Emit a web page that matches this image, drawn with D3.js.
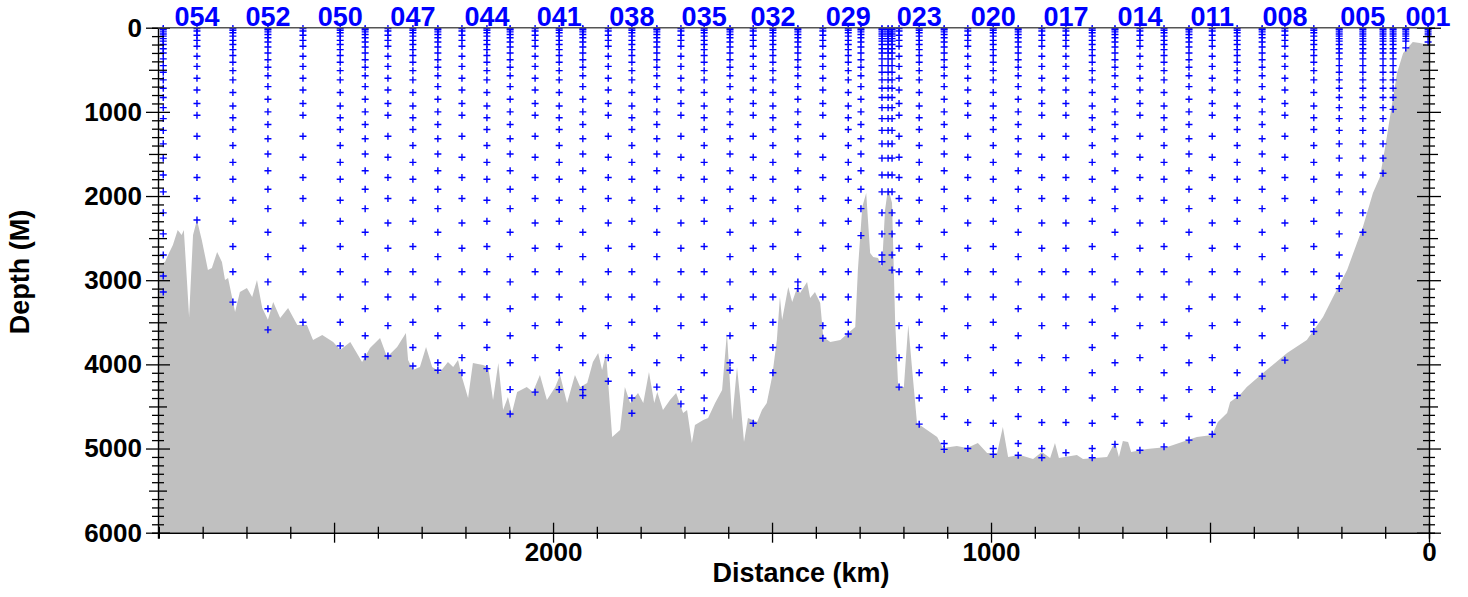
<!DOCTYPE html>
<html>
<head>
<meta charset="utf-8">
<script src="https://cdn.jsdelivr.net/npm/d3@7"></script>
<style>
  body { margin: 0; background: #fff; }
  svg { display: block; font-family: 'Liberation Sans', Arial, sans-serif; }
</style>
</head>
<body>
<div id="chart"></div>
<script>
//Datos de la sección: estaciones, botellas y batimetría
const stationIds = ['001','002','003','004','005','006','007','008','009','010',
    '011','012','013','014','015','016','017','018','019','020',
    '021','022','023','024','025','026','027','028','029','030',
    '031','032','033','034','035','036','037','038','039','040',
    '041','042','043','044','045','046','047','048','049','050',
    '051','052','053','054','055'];

//Distancia de cada estación (km)
const stationKm = [2, 53, 82, 105, 151, 205, 263, 329, 381, 438,
    495, 548, 605, 660, 717, 769, 829, 884, 938, 995,
    1053, 1107, 1164, 1210, 1226, 1235, 1249, 1297, 1326, 1384,
    1441, 1498, 1543, 1596, 1655, 1708, 1763, 1820, 1874, 1932,
    1986, 2041, 2098, 2151, 2208, 2263, 2320, 2377, 2429, 2486,
    2571, 2651, 2731, 2813, 2890];

//Botella más profunda de cada estación (m)
const deepestBottle = [170, 240, 970, 1730, 2430, 3100, 3610, 3950, 4140, 4370,
    4830, 4900, 4980, 5020, 4950, 5110, 5050, 5110, 5080, 5070,
    5000, 5010, 4710, 4270, 2880, 1950, 2780, 2470, 3640, 3690,
    3100, 4100, 4700, 4070, 4550, 4470, 4270, 4580, 4200, 4370,
    4300, 4330, 4590, 4050, 4100, 4070, 4020, 3900, 3910, 3780,
    3500, 3590, 3260, 2285, 3140];

//Esquema de botellas usado en cada estación
const stationPattern = ['D','D','D','D','D','D','A','B','C','A',
    'B','C','A','B','C','A','B','B','C','A',
    'B','C','A','B','D','D','D','C','A','B',
    'C','A','B','C','A','B','C','A','B','C',
    'A','B','C','A','B','C','A','B','C','A',
    'B','C','A','B','D'];

//Profundidades de botella (m)
const bottlesA = [10, 30, 60, 100, 150, 200, 260, 330, 410, 510, 620, 770, 930, 1070, 1210, 1400, 1600, 1800, 2050, 2300, 2600, 2900, 3200, 3500, 3800, 4100, 4400, 4700, 5000];
const bottlesB = [10, 40, 90, 150, 220, 340, 460, 600, 740, 900, 1040, 1290, 1540, 1780, 2030, 2320, 2620, 2900, 3200, 3540, 3920, 4300, 4690, 5000];
const bottlesC = [10, 25, 50, 80, 120, 170, 230, 300, 380, 470, 570, 700, 850, 1000, 1150, 1320, 1500, 1700, 1920, 2150, 2430, 2720, 3020, 3340, 3660, 3980, 4300, 4620, 4940];
const bottlesD = [10, 25, 50, 75, 100, 130, 160, 200, 250, 300, 370, 450, 530, 620, 720, 830, 950, 1080, 1220, 1380, 1550, 1750, 1950, 2200, 2450, 2700, 2950];

//Estaciones rotuladas arriba
const labeledStations = ['054','052','050','047','044','041','038','035','032','029','023','020','017','014','011','008','005','001'];

//Batimetría: [distancia km, profundidad m]
const bathyKm = [2902, 2886, 2879, 2868, 2857, 2848, 2843, 2836, 2831, 2822, 2813, 2802, 2788, 2779, 2767, 2756, 2749, 2742, 2726, 2715,
    2699, 2687, 2676, 2664, 2651, 2639, 2623, 2605, 2584, 2562, 2548, 2527, 2502, 2486, 2463, 2436, 2418, 2395, 2379, 2356,
    2336, 2331, 2320, 2304, 2290, 2276, 2258, 2240, 2228, 2217, 2208, 2194, 2183, 2160, 2148, 2137, 2125, 2114, 2103, 2094,
    2082, 2060, 2046, 2030, 2014, 1995, 1984, 1968, 1950, 1938, 1922, 1909, 1897, 1888, 1879, 1865, 1847, 1836, 1824, 1806,
    1794, 1781, 1769, 1762, 1749, 1733, 1719, 1703, 1694, 1683, 1676, 1657, 1646, 1630, 1614, 1603, 1591, 1580, 1573, 1564,
    1555, 1534, 1523, 1512, 1500, 1489, 1482, 1477, 1463, 1454, 1443, 1436, 1420, 1413, 1402, 1390, 1383, 1367, 1344, 1326,
    1310, 1304, 1294, 1285, 1276, 1269, 1258, 1249, 1242, 1235, 1226, 1219, 1212, 1199, 1189, 1180, 1169, 1146, 1123, 1110,
    1078, 1055, 1030, 1009, 986, 973, 961, 934, 904, 884, 865, 854, 845, 804, 790, 735, 717, 708, 699, 687,
    680, 644, 598, 584, 564, 530, 495, 482, 461, 454, 432, 416, 379, 324, 279, 242, 219, 187, 151, 128,
    112, 100, 84, 73, 59, 37, 21, 2, 0];
const bathyDepth = [2819, 2783, 2700, 2581, 2403, 2463, 2403, 2997, 3437, 2463, 2285, 2522, 2878, 2855, 2665, 2783, 2997, 2973, 3377, 3140,
    3092, 3199, 2997, 3330, 3471, 3259, 3449, 3330, 3532, 3532, 3710, 3651, 3734, 3829, 3734, 3972, 3805, 3686, 3912, 3793,
    3627, 3948, 4067, 4031, 3793, 4031, 4090, 3972, 4031, 3948, 4149, 4399, 3983, 4007, 4031, 4423, 3983, 4542, 4387, 4577,
    4328, 4268, 4328, 4126, 4423, 4268, 4126, 4458, 4126, 4268, 4221, 3972, 3865, 4067, 3865, 4862, 4779, 4268, 4458, 4340,
    4458, 4090, 4458, 4328, 4542, 4423, 4340, 4577, 4542, 4934, 4720, 4661, 4637, 4458, 4304, 3627, 4661, 4031, 4387, 4922,
    4637, 4684, 4542, 4458, 4149, 3710, 3199, 3473, 3080, 3259, 3092, 3152, 3021, 3211, 3140, 3270, 3674, 3734, 3710, 3627,
    3556, 2878, 2130, 1964, 2677, 2724, 2736, 2843, 2166, 1904, 2083, 3473, 4268, 4268, 3532, 4067, 4696, 4779, 4862, 4993,
    4969, 4993, 4934, 5053, 5053, 4744, 5100, 5076, 5124, 5040, 5112, 4934, 5112, 5076, 5124, 5100, 4922, 5100, 4910, 4922,
    5040, 5005, 4981, 4957, 4922, 4862, 4839, 4684, 4577, 4446, 4363, 4268, 4102, 3865, 3710, 3437, 3199, 2878, 2367, 1963,
    1774, 1418, 896, 538, 300, 170, 182, 206, 210];

//Tamaño del gráfico
let width = 1468,
    height = 597;
let plotLeft = 158, plotRight = 1429, plotTop = 27.7, plotBottom = 532.7;

let svg = d3.select('#chart')
    .append('svg')
        .attr('width', width)
        .attr('height', height);

let x = d3.scaleLinear()
    .domain([2902, 0])
    .range([plotLeft, plotRight]);

let y = d3.scaleLinear()
    .domain([0, 6000])
    .range([plotTop, plotBottom]);

let patterns = { A: bottlesA, B: bottlesB, C: bottlesC, D: bottlesD };

//Batimetría (relleno gris)
let bathy = bathyKm.map(function(d, i) { return [d, bathyDepth[i]]; });

svg.append('clipPath')
    .attr('id', 'plotClip')
    .append('rect')
        .attr('x', plotLeft)
        .attr('y', plotTop)
        .attr('width', plotRight - plotLeft)
        .attr('height', plotBottom - plotTop);

let area = d3.area()
    .x(function(d) { return x(d[0]); })
    .y0(y(6000))
    .y1(function(d) { return y(d[1]); });

svg.append('path')
    .datum(bathy)
    .attr('clip-path', 'url(#plotClip)')
    .attr('fill', '#c0c0c0')
    .attr('d', area);

//Botellas de cada estación
let bottles = [];
stationKm.forEach(function(km, i) {
    let maxD = deepestBottle[i];
    patterns[stationPattern[i]].forEach(function(d) {
        if (d < maxD - 60) { bottles.push([km, d]); }
    });
    bottles.push([km, maxD]);
});

svg.append('g')
    .selectAll('path')
    .data(bottles)
    .enter()
    .append('path')
    .attr('transform', function(d) { return 'translate(' + x(d[0]) + ',' + y(d[1]) + ')'; })
    .attr('d', 'M-3.5,0H3.5M0,-3.5V3.5')
    .attr('stroke', '#0000ff')
    .attr('stroke-width', 1.4)
    .attr('fill', 'none');

//Ejes
function tickHalf(d, step) {
    if (d % (step * 10) === 0) { return 12; }
    if (d % (step * 5) === 0) { return 9; }
    return 6;
}

let yTicks = d3.range(0, 6001, 100);

let yLeft = svg.append('g')
    .attr('transform', 'translate(' + plotLeft + ',0)')
    .call(d3.axisLeft(y).tickValues(yTicks).tickFormat(function(d) { return d % 1000 === 0 ? d : ''; }));

yLeft.selectAll('.tick line')
    .attr('x1', function(d) { return -tickHalf(d, 100); })
    .attr('x2', function(d) { return tickHalf(d, 100); });

yLeft.selectAll('.tick text')
    .attr('x', -16)
    .style('font-size', '26px')
    .style('font-weight', 'bold')
    .attr('fill', '#000');

let yRight = svg.append('g')
    .attr('transform', 'translate(' + plotRight + ',0)')
    .call(d3.axisRight(y).tickValues(yTicks).tickFormat(''));

yRight.selectAll('.tick line')
    .attr('x1', function(d) { return -tickHalf(d, 100); })
    .attr('x2', function(d) { return tickHalf(d, 100); });

let xTicks = d3.range(0, 2901, 100);

let xBottom = svg.append('g')
    .attr('transform', 'translate(0,' + plotBottom + ')')
    .call(d3.axisBottom(x).tickValues(xTicks).tickFormat(function(d) { return d % 1000 === 0 ? d : ''; }));

xBottom.selectAll('.tick line')
    .attr('y1', function(d) { return d % 500 === 0 ? -10 : -6; })
    .attr('y2', function(d) { return d % 500 === 0 ? 10 : 6; });

xBottom.selectAll('.tick text')
    .attr('y', 10)
    .style('font-size', '26px')
    .style('font-weight', 'bold')
    .attr('fill', '#000');

svg.selectAll('.domain')
    .attr('stroke', '#000')
    .attr('stroke-width', 1.4);
svg.selectAll('.tick line')
    .attr('stroke', '#000')
    .attr('stroke-width', 1.3);

//Línea superior
svg.append('line')
    .attr('x1', plotLeft)
    .attr('x2', plotRight)
    .attr('y1', plotTop)
    .attr('y2', plotTop)
    .attr('stroke', '#555')
    .attr('stroke-width', 1.4);

//Rótulos de estación
svg.append('g')
    .selectAll('text')
    .data(labeledStations)
    .enter()
    .append('text')
    .attr('x', function(d) { return x(stationKm[stationIds.indexOf(d)]); })
    .attr('y', 26)
    .attr('text-anchor', 'middle')
    .attr('fill', '#0000ff')
    .style('font-size', '27px')
    .style('font-weight', 'bold')
    .text(function(d) { return d; });

//Títulos de ejes
svg.append('text')
    .attr('x', 801)
    .attr('y', 582)
    .attr('text-anchor', 'middle')
    .style('font-size', '27px')
    .style('font-weight', 'bold')
    .text('Distance (km)');

svg.append('text')
    .attr('transform', 'translate(29,272) rotate(-90)')
    .attr('text-anchor', 'middle')
    .style('font-size', '27px')
    .style('font-weight', 'bold')
    .text('Depth (M)');
</script>
</body>
</html>
